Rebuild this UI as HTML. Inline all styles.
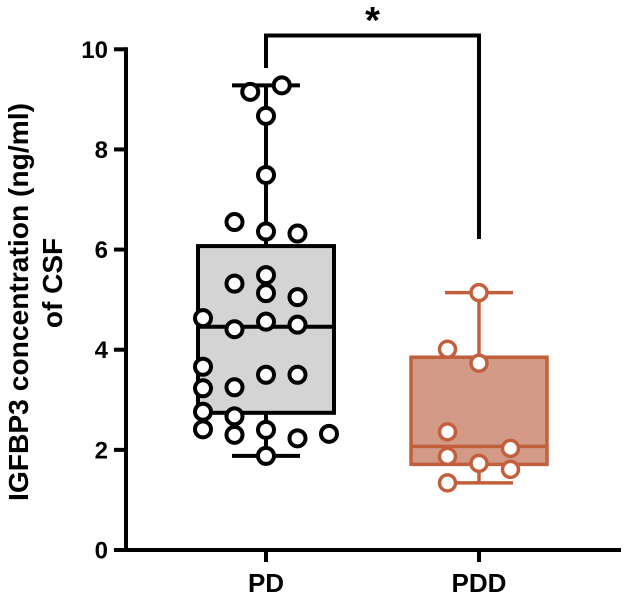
<!DOCTYPE html>
<html><head><meta charset="utf-8"><style>
html,body{margin:0;padding:0;background:#fff;}
svg{display:block;font-family:"Liberation Sans",Arial,sans-serif;font-weight:bold;}
</style></head><body>
<svg id="chart" width="624" height="597" viewBox="0 0 624 597">
<g id="axes"></g><g id="marks"></g>
</svg>
<script>
const categories = ["PD", "PDD"];
const yTicks = [0, 2, 4, 6, 8, 10];
const pdValues = [9.15, 9.28, 8.67, 7.49, 6.55, 6.36, 6.32, 5.32, 5.49, 5.13, 5.05, 4.63, 4.41, 4.56, 4.50, 3.66, 3.50, 3.50, 3.23, 3.25, 2.76, 2.67, 2.41, 2.30, 2.40, 2.23, 2.32, 1.88];
const pdDodge  = [-0.5, 0.5, 0, 0, -1, 0, 1, -1, 0, 0, 1, -2, -1, 0, 1, -2, 0, 1, -2, -1, -2, -1, -2, -1, 0, 1, 2, 0];
const pddValues = [5.14, 4.01, 3.73, 2.36, 2.03, 1.87, 1.73, 1.61, 1.34];
const pddDodge  = [0, -1, 0, -1, 1, -1, 0, 1, -1];
const pdBox = [1.88, 2.74, 4.46, 6.07, 9.28];   // min, q1, median, q3, max
const pddBox = [1.34, 1.71, 2.07, 3.85, 5.14];

const NS = "http://www.w3.org/2000/svg";
const y0 = 550, yTop = 49.3, yMax = 10;
const yScale = v => y0 - (y0 - yTop) * v / yMax;
const xAxisLeft = 126;
const xScale = i => [266, 479][i];
const dodgeW = 31.5;
const axes = document.getElementById("axes"), marks = document.getElementById("marks");
function mk(tag, attrs, parent, text){
  const e = document.createElementNS(NS, tag);
  for (const k in attrs) e.setAttribute(k, attrs[k]);
  if (text !== undefined) e.textContent = text;
  parent.appendChild(e); return e;
}
let yl = mk("line",{x1:xAxisLeft,y1:yTop-2,x2:xAxisLeft,y2:y0+2,stroke:"#000","stroke-width":4},axes);
 
let xl = mk("line",{x1:114,y1:y0,x2:621,y2:y0,stroke:"#000","stroke-width":4},axes);
 
yTicks.forEach(t=>{
  const y = yScale(t);
  const tk = mk("line",{x1:114,y1:y,x2:xAxisLeft,y2:y,stroke:"#000","stroke-width":4},axes);
   
  const lb = mk("text",{x:108,y:y+8.5,"text-anchor":"end","font-size":24},axes,String(t));
   
});
categories.forEach((c,i)=>{
  const x = xScale(i);
  const tk = mk("line",{x1:x,y1:y0,x2:x,y2:562,stroke:"#000","stroke-width":4},axes);
   
  const lb = mk("text",{x:x,y:592,"text-anchor":"middle","font-size":26},axes,c);
   
});
let t1 = mk("text",{x:0,y:0,transform:"translate(28,302) rotate(-90)","text-anchor":"middle","font-size":28,textLength:398,lengthAdjust:"spacingAndGlyphs"},axes,"IGFBP3 concentration (ng/ml)");
 
let t2 = mk("text",{x:0,y:0,transform:"translate(62,283) rotate(-90)","text-anchor":"middle","font-size":28},axes,"of CSF");
 

function drawGroup(i, box, vals, dodge, stroke, fill, sw, name){
  const cx = xScale(i), hw = 68, cw = 34;
  const g = mk("g",{},marks);
   
  const w = mk("line",{x1:cx,y1:yScale(box[0]),x2:cx,y2:yScale(box[4]),stroke:stroke,"stroke-width":sw},g);
   
  [box[0],box[4]].forEach(v=>{
    const c = mk("line",{x1:cx-cw,y1:yScale(v),x2:cx+cw,y2:yScale(v),stroke:stroke,"stroke-width":sw},g);
     
  });
  const r = mk("rect",{x:cx-hw,y:yScale(box[3]),width:2*hw,height:yScale(box[1])-yScale(box[3]),fill:fill,stroke:stroke,"stroke-width":sw},g);
   
  const m = mk("line",{x1:cx-hw,y1:yScale(box[2]),x2:cx+hw,y2:yScale(box[2]),stroke:stroke,"stroke-width":sw},g);
   
  vals.forEach((v,k)=>{
    const p = mk("circle",{cx:cx+dodge[k]*dodgeW,cy:yScale(v),r:8,fill:"#fff",stroke:stroke,"stroke-width":sw},g);
     
  });
}
drawGroup(0, pdBox, pdValues, pdDodge, "#000", "#d4d4d4", 4, "pd");
drawGroup(1, pddBox, pddValues, pddDodge, "#c2603e", "#d49a88", 3.5, "pdd");

const br = mk("polyline",{points:`${xScale(0)},68 ${xScale(0)},35.5 ${xScale(1)},35.5 ${xScale(1)},239`,fill:"none",stroke:"#000","stroke-width":4},marks);
 
const st = mk("text",{x:(xScale(0)+xScale(1))/2,y:33,"text-anchor":"middle","font-size":38},marks,"*");
 
</script>
</body></html>
